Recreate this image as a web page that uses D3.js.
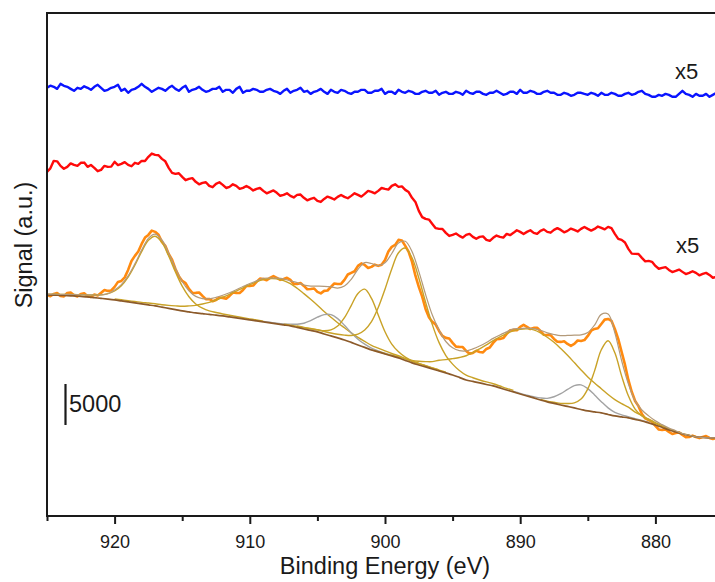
<!DOCTYPE html>
<html><head><meta charset="utf-8">
<script src="https://cdn.jsdelivr.net/npm/d3@7"></script>
<style>
body{margin:0;background:#fff}
svg{display:block}
text{font-family:"Liberation Sans",Arial,sans-serif;fill:#1a1a1a}
</style>
</head><body>
<svg id="chart" width="715" height="582"></svg>
<script>
// ---- data: binding energy from 925 eV downwards ----
const energyStart = 925;
const traceStep = 0.25;   // measured traces
const fitStep = 0.5;      // background and fit components
const xDomain = [925, 875];
const xTicks = [920, 910, 900, 890, 880];
const xMinorTicks = [925, 915, 905, 895, 885, 875];

// top trace (x5, offset for display)
const blueTraceX5 = [
52220,52480,52340,52090,52700,52460,52340,52090,51850,52220,
52090,52400,52220,51970,52340,52580,52220,51850,51970,52220,
52340,52580,51850,52090,51610,51970,52090,52340,52700,52340,
52090,51730,51970,52220,52090,51850,52220,52460,52090,51850,
52220,52460,51730,51970,52090,52340,51970,51730,51850,52090,
52090,52340,51730,51970,51970,51610,52090,52340,51610,51850,
51850,52090,51970,51730,51730,51970,52090,51850,51730,51480,
51850,52090,51610,51850,51970,52220,51730,51850,51480,51730,
51850,52090,51730,51480,51970,51730,51610,51970,51850,51610,
51480,51730,51730,51970,51970,51610,51610,51850,51850,52090,
51480,51730,51730,51480,51970,51730,51610,51850,51730,51480,
51480,51730,51850,51610,51610,51850,51360,51610,51730,51480,
51480,51730,51610,51360,51850,51610,51480,51730,51730,51480,
51360,51610,51610,51850,51610,51360,51480,51730,51730,51480,
51970,51610,51610,51850,51730,51480,51480,51730,51850,51610,
51610,51360,51360,51610,51480,51240,51360,51610,51610,51480,
51360,51610,51480,51240,51610,51360,51360,51610,51480,51240,
51240,51480,51610,51360,51480,51730,51850,51480,51360,51120,
51120,51360,51240,51480,51360,51120,51120,51480,51850,51480,
51360,51120,51480,51240,51240,51480,51120,51360,51610,51360,
51480];

// middle trace (x5, offset for display)
const redTraceX5 = [
41970,42400,43310,43250,42700,42350,42580,43000,42820,42700,
43070,43100,42580,42800,42460,42050,42210,42700,42580,42600,
43190,42800,42940,43150,42820,42650,43070,42950,43310,43300,
43800,44200,44040,44000,43550,43250,42460,41850,41720,41800,
41360,40950,41110,41200,40750,40450,40630,40700,40260,40100,
40500,40700,40380,40000,40140,40450,40260,39900,40020,40250,
40020,39700,39890,40000,39650,39350,39530,39700,39410,39050,
39160,39350,39040,38850,39160,39200,38800,38500,38670,38800,
38430,38300,38670,38950,38800,38600,38920,39150,38920,38750,
39040,39350,39160,38950,39280,39650,39530,39350,39650,40000,
39890,39800,40260,40450,40140,40200,39770,39500,38800,38300,
37210,36450,36230,36150,35620,35100,35010,35000,34530,34150,
34280,34450,34160,33950,34280,34400,34040,33800,34040,34100,
33670,33550,33920,34200,34040,33950,34400,34250,34530,34850,
34650,34400,34650,34850,34530,34400,34770,34950,34650,34550,
34890,35100,34890,34600,34770,35050,34890,34700,35010,35250,
35010,34800,35010,35300,35140,34950,35260,35100,34400,33800,
33670,33350,32570,32000,31960,31950,31480,31050,31110,31000,
30500,30150,30260,30350,30010,29750,29890,30050,29770,29500,
29650,29850,29650,29350,29520,29650,29400,29050,29160,29350,
29160];

// measured Ce 3d spectrum
const spectrum = [
26960,26800,27080,27200,26840,26780,27200,27250,26920,26780,
27080,27150,26800,26700,27000,26900,27210,27550,27450,27500,
27940,28550,28670,29100,30010,31100,31720,32250,33180,33950,
34280,34800,34650,34300,33430,32950,31960,31250,30130,29250,
28670,28400,27690,27200,27210,27250,26840,26450,26470,26200,
26350,26650,26600,26500,26840,27250,27210,27200,27570,28050,
28060,28100,28550,28950,28910,28750,29040,29250,29040,28800,
28910,29050,28790,28300,28300,28400,28060,27650,27690,27750,
27330,27150,27450,27500,27940,28350,28300,28300,28790,29450,
29650,29850,30500,30800,30620,30250,30380,30650,30500,30650,
31230,32250,32820,33050,33670,33600,32940,32200,30990,29300,
27940,26750,25250,24250,23670,23350,22570,21950,21720,21650,
21110,20650,20620,20600,20130,19800,19890,20150,20010,19950,
20370,20550,21110,21550,21590,21700,22200,22650,22690,22650,
23060,23300,23060,22800,22940,22950,22570,22100,22080,22050,
21590,21250,21230,21300,20980,20750,20980,21400,21350,21450,
21960,22600,22810,22900,23420,23950,24030,23800,22810,21600,
20010,18450,16590,15150,14030,13400,12440,11900,11710,11500,
10980,10550,10490,10550,10250,10000,10130,10200,9880,9600,
9640,9800,9640,9500,9640,9750,9520,9400,9520,9650,
9520];

// fitted background
const background = [26960,26940,26900,26880,26840,26780,26720,26630,26540,26450,
26350,26230,26110,25990,25860,25740,25620,25470,25320,25170,
25010,24890,24770,24680,24580,24500,24400,24280,24160,24030,
23910,23790,23670,23550,23420,23300,23180,23000,22810,22630,
22450,22200,21960,21720,21470,21170,20860,20560,20250,20010,
19760,19520,19280,18970,18670,18420,18180,17930,17690,17450,
17200,16900,16590,16410,16230,16040,15860,15620,15370,15130,
14880,14640,14400,14150,13910,13730,13540,13360,13180,12990,
12810,12690,12570,12380,12200,12080,11960,11770,11590,11350,
11100,10800,10490,10250,10000,9820,9640,9580,9520,9520,
9520];

// fit components (height above background), each with its first energy
const peakAStart = 925;
const peakA = [100,110,130,150,170,200,240,320,430,660,1090,1850,3020,4590,6380,7890,8500,7890,6380,4590,3020,1850,1090,660,430,320,240,200,170,150,130,110,100];
const peakBStart = 920;
const peakB = [130,140,150,170,190,230,260,300,370,460,570,730,920,1170,1480,1840,2280,2750,3260,3800,4310,4780,5160,5400,5500,5400,5160,4780,4310,3800,3260,2750,2280,1840,1480,1170,920,730,570,460,370,300,260,230,190,170,150,140,130];
const peakCStart = 909;
const peakC = [60,70,90,130,220,390,700,1190,1790,2350,2600,2350,1790,1190,700,390,220,130,90,70,60];
const peakDStart = 907.5;
const peakD = [90,100,130,150,190,260,400,740,1440,2710,4490,6280,7100,6280,4490,2710,1440,740,400,260,190,150,130,100,90];
const peakEStart = 906.5;
const peakE = [180,200,230,270,310,360,450,590,840,1320,2120,3450,5410,7900,10600,12820,13700,12820,10600,7900,5410,3450,2120,1320,840,590,450,360,310,270,230,200,180];
const peakFStart = 901;
const peakF = [20,30,50,80,130,200,300,450,650,900,1310,1620,1990,2430,2950,3520,4150,4820,5530,6230,6880,7450,7890,8180,8300,8180,7890,7450,6880,6230,5530,4820,4150,3520,2950,2430,1990,1620,1310,900,650,450,300,200,130,80,50,30,20];
const peakHStart = 890.5;
const peakH = [50,70,100,150,250,440,810,1370,2070,2720,3000,2720,2070,1370,810,440,250,150,100,70,50];
const peakIStart = 888.5;
const peakI = [70,100,140,200,360,620,1270,2700,5010,7700,9000,7700,5010,2700,1270,620,360,200,140,100,70];

const scaleBarValue = 5000, scaleBarBase = 11100;
const traceLabels = ["x5", "x5"];
const xTitle = "Binding Energy (eV)";
const yTitle = "Signal (a.u.)";

// ---- drawing ----
const plotLeft = 47, plotRight = 723, plotTop = 13, plotBottom = 516;
const svg = d3.select("#chart");
const x = d3.scaleLinear().domain(xDomain).range([plotLeft, plotRight]);
const y = d3.scaleLinear().domain([0, 61340]).range([plotBottom, plotTop]);

const idxOf = e => Math.round((energyStart - e) / fitStep);

svg.append("defs").append("clipPath").attr("id", "plot")
  .append("rect").attr("x", plotLeft).attr("y", plotTop)
  .attr("width", plotRight - plotLeft).attr("height", plotBottom - plotTop);

const g = svg.append("g").attr("clip-path", "url(#plot)");

const lineLin = d3.line().x(d => x(d[0])).y(d => y(d[1]));
const lineSmooth = d3.line().x(d => x(d[0])).y(d => y(d[1])).curve(d3.curveCatmullRom.alpha(0.5));

const series = (arr, step) => arr.map((v, i) => [energyStart - i * step, v]);

const gold = "#c9a227", grey = "#a3a3a3";
const comps = [
  {start: peakAStart, vals: peakA, color: gold},
  {start: peakBStart, vals: peakB, color: gold},
  {start: peakCStart, vals: peakC, color: grey},
  {start: peakDStart, vals: peakD, color: gold},
  {start: peakEStart, vals: peakE, color: gold},
  {start: peakFStart, vals: peakF, color: gold},
  {start: peakHStart, vals: peakH, color: grey},
  {start: peakIStart, vals: peakI, color: gold}
];

// envelope = background + all components
const envelope = background.map((b, i) => {
  const e = energyStart - i * fitStep;
  let s = b;
  comps.forEach(c => {
    const j = Math.round((c.start - e) / fitStep);
    if (j >= 0 && j < c.vals.length) s += c.vals[j];
  });
  return [e, s];
});

// traces
g.append("path").datum(series(blueTraceX5, traceStep)).attr("d", lineLin)
  .attr("fill", "none").attr("stroke", "#0a14ff").attr("stroke-width", 2.4).attr("stroke-linejoin", "round");
g.append("path").datum(series(redTraceX5, traceStep)).attr("d", lineLin)
  .attr("fill", "none").attr("stroke", "#ff0a0a").attr("stroke-width", 2.4).attr("stroke-linejoin", "round");
g.append("path").datum(series(spectrum, traceStep)).attr("d", lineLin)
  .attr("fill", "none").attr("stroke", "#ff8a10").attr("stroke-width", 2.6).attr("stroke-linejoin", "round");

// components
comps.forEach(c => {
  const pts = c.vals.map((v, j) => {
    const e = c.start - j * fitStep;
    return [e, background[idxOf(e)] + v];
  });
  g.append("path").datum(pts).attr("d", lineSmooth)
    .attr("fill", "none").attr("stroke", c.color).attr("stroke-width", 1.4);
});

// background
g.append("path").datum(series(background, fitStep)).attr("d", lineSmooth)
  .attr("fill", "none").attr("stroke", "#8c5a2a").attr("stroke-width", 1.7);

// envelope
g.append("path").datum(envelope).attr("d", lineSmooth)
  .attr("fill", "none").attr("stroke", "#b39a7a").attr("stroke-width", 1.2);

// frame
svg.append("rect").attr("x", plotLeft).attr("y", plotTop)
  .attr("width", plotRight - plotLeft).attr("height", plotBottom - plotTop)
  .attr("fill", "none").attr("stroke", "#1a1a1a").attr("stroke-width", 2);

// x axis
const axMajor = svg.append("g").attr("transform", `translate(0,${plotBottom})`)
  .call(d3.axisBottom(x).tickValues(xTicks).tickSize(8).tickSizeOuter(0).tickPadding(11).tickFormat(d3.format("d")));
axMajor.select(".domain").remove();
axMajor.selectAll(".tick line").attr("stroke", "#1a1a1a").attr("stroke-width", 2);
axMajor.selectAll(".tick text").attr("font-size", 18).attr("font-family", "Liberation Sans, Arial, sans-serif").attr("fill", "#1a1a1a");

const axMinor = svg.append("g").attr("transform", `translate(0,${plotBottom})`)
  .call(d3.axisBottom(x).tickValues(xMinorTicks).tickSize(5).tickSizeOuter(0).tickFormat(""));
axMinor.select(".domain").remove();
axMinor.selectAll(".tick line").attr("stroke", "#1a1a1a").attr("stroke-width", 2);

// titles
svg.append("text").attr("x", x(900)).attr("y", 574).attr("text-anchor", "middle")
  .attr("font-size", 23.5).text(xTitle);
svg.append("text").attr("transform", `translate(31.5,245) rotate(-90)`).attr("text-anchor", "middle")
  .attr("font-size", 23.5).text(yTitle);

// trace labels
svg.append("text").attr("x", 675).attr("y", 79).attr("font-size", 22).text(traceLabels[0]);
svg.append("text").attr("x", 676).attr("y", 253).attr("font-size", 22).text(traceLabels[1]);

// scale bar
svg.append("line").attr("x1", 65.5).attr("x2", 65.5)
  .attr("y1", y(scaleBarBase)).attr("y2", y(scaleBarBase + scaleBarValue))
  .attr("stroke", "#1a1a1a").attr("stroke-width", 2.2);
svg.append("text").attr("x", 69).attr("y", 412).attr("font-size", 23.5).text(String(scaleBarValue));
</script>
</body></html>
